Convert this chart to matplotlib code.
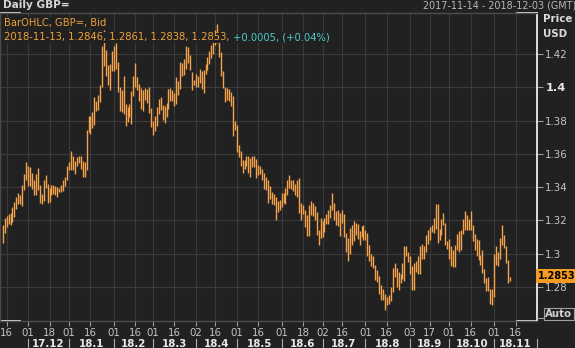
import matplotlib.pyplot as plt
import matplotlib.transforms as mtransforms
import pandas as pd

plt.rcParams['font.family'] = ['DejaVu Sans']

# daily GBP= bid bars, one per weekday from 2017-11-14 to 2018-11-13
high = [
    1.3175, 1.3215, 1.3225, 1.3240, 1.3245, 1.3280, 1.3310, 1.3340, 1.3365, 1.3355, 1.3410, 1.3480, 1.3550,
    1.3530, 1.3520, 1.3485, 1.3440, 1.3480, 1.3515, 1.3410, 1.3360, 1.3440, 1.3470, 1.3420, 1.3395, 1.3410,
    1.3410, 1.3405, 1.3400, 1.3395, 1.3410, 1.3445, 1.3460, 1.3530,
    1.3550, 1.3615, 1.3590, 1.3560, 1.3580, 1.3590, 1.3590, 1.3560, 1.3550, 1.3745, 1.3825, 1.3830, 1.3850,
    1.3943, 1.3915, 1.3955, 1.4015, 1.4250, 1.4345, 1.4225, 1.4135, 1.4140, 1.4215,
    1.4245, 1.4265, 1.4150, 1.4000, 1.3985, 1.4065, 1.3900, 1.3880, 1.3900, 1.3975, 1.4070, 1.4145, 1.4060,
    1.4020, 1.3995, 1.3985, 1.3995, 1.3990, 1.4000, 1.3875,
    1.3800, 1.3825, 1.3880, 1.3930, 1.3940, 1.3895, 1.3890, 1.3905, 1.3990, 1.3995, 1.3985, 1.3965, 1.4060,
    1.4040, 1.4150, 1.4145, 1.4170, 1.4245, 1.4240, 1.4195, 1.4090, 1.4045,
    1.4080, 1.4070, 1.4110, 1.4100, 1.4105, 1.4140, 1.4180, 1.4220, 1.4255, 1.4290, 1.4345, 1.4377, 1.4315,
    1.4210, 1.4100, 1.4000, 1.3995, 1.3990, 1.3970, 1.3945, 1.3800,
    1.3775, 1.3655, 1.3620, 1.3565, 1.3565, 1.3590, 1.3590, 1.3575, 1.3585, 1.3590, 1.3570, 1.3535, 1.3530,
    1.3510, 1.3485, 1.3460, 1.3440, 1.3405, 1.3370, 1.3360, 1.3340, 1.3315, 1.3320,
    1.3365, 1.3365, 1.3395, 1.3445, 1.3475, 1.3440, 1.3440, 1.3420, 1.3445, 1.3455, 1.3305, 1.3295, 1.3265,
    1.3235, 1.3290, 1.3315, 1.3305, 1.3285, 1.3250, 1.3145, 1.3215,
    1.3195, 1.3215, 1.3240, 1.3265, 1.3290, 1.3365, 1.3305, 1.3255, 1.3260, 1.3245, 1.3260, 1.3240, 1.3125,
    1.3095, 1.3155, 1.3170, 1.3195, 1.3185, 1.3180, 1.3135, 1.3165, 1.3175,
    1.3145, 1.3125, 1.3055, 1.3000, 1.2985, 1.2935, 1.2905, 1.2865, 1.2815, 1.2790, 1.2760, 1.2740, 1.2750,
    1.2800, 1.2915, 1.2945, 1.2915, 1.2890, 1.2880, 1.2945, 1.3045, 1.3045, 1.3010,
    1.2985, 1.2925, 1.2945, 1.2955, 1.2985, 1.3045, 1.3060, 1.3045, 1.3110, 1.3145, 1.3160, 1.3175, 1.3215,
    1.3300, 1.3300, 1.3150, 1.3210, 1.3245, 1.3185, 1.3075,
    1.3090, 1.3045, 1.3025, 1.3050, 1.3120, 1.3135, 1.3145, 1.3210, 1.3255, 1.3235, 1.3210, 1.3255, 1.3170,
    1.3120, 1.3090, 1.3085, 1.2990, 1.3020, 1.2910, 1.2855, 1.2860, 1.2790, 1.2790,
    1.3000, 1.3045, 1.3010, 1.3095, 1.3175, 1.3115, 1.3045, 1.2960, 1.2861,
]
low = [
    1.3063, 1.3125, 1.3160, 1.3180, 1.3170, 1.3190, 1.3220, 1.3270, 1.3300, 1.3300, 1.3285, 1.3385, 1.3440,
    1.3405, 1.3405, 1.3390, 1.3355, 1.3355, 1.3380, 1.3305, 1.3300, 1.3315, 1.3395, 1.3305, 1.3310, 1.3350,
    1.3360, 1.3355, 1.3340, 1.3370, 1.3370, 1.3375, 1.3405, 1.3445,
    1.3500, 1.3500, 1.3505, 1.3480, 1.3525, 1.3545, 1.3510, 1.3460, 1.3460, 1.3500, 1.3730, 1.3720, 1.3755,
    1.3775, 1.3855, 1.3865, 1.3910, 1.4000, 1.4130, 1.4065, 1.4015, 1.3985, 1.4100,
    1.4100, 1.4110, 1.3970, 1.3860, 1.3850, 1.3840, 1.3765, 1.3790, 1.3820, 1.3780, 1.3945, 1.4000, 1.3985,
    1.3915, 1.3870, 1.3855, 1.3925, 1.3905, 1.3845, 1.3760,
    1.3712, 1.3740, 1.3765, 1.3840, 1.3865, 1.3805, 1.3785, 1.3820, 1.3870, 1.3915, 1.3920, 1.3890, 1.3900,
    1.3955, 1.3990, 1.4070, 1.4075, 1.4110, 1.4145, 1.4105, 1.3985, 1.4015,
    1.4000, 1.4000, 1.4025, 1.3990, 1.3965, 1.4080, 1.4105, 1.4140, 1.4175, 1.4200, 1.4255, 1.4265, 1.4180,
    1.4070, 1.3995, 1.3910, 1.3925, 1.3915, 1.3890, 1.3710, 1.3745,
    1.3610, 1.3580, 1.3530, 1.3485, 1.3510, 1.3525, 1.3485, 1.3460, 1.3520, 1.3520, 1.3455, 1.3470, 1.3480,
    1.3440, 1.3390, 1.3380, 1.3305, 1.3330, 1.3300, 1.3290, 1.3205, 1.3250, 1.3265,
    1.3280, 1.3305, 1.3300, 1.3355, 1.3395, 1.3390, 1.3375, 1.3355, 1.3340, 1.3245, 1.3205, 1.3240, 1.3160,
    1.3105, 1.3105, 1.3230, 1.3225, 1.3205, 1.3115, 1.3050, 1.3095,
    1.3100, 1.3130, 1.3180, 1.3180, 1.3215, 1.3265, 1.3200, 1.3170, 1.3165, 1.3105, 1.3185, 1.3100, 1.3010,
    1.2957, 1.3000, 1.3055, 1.3075, 1.3115, 1.3090, 1.3055, 1.3100, 1.3085,
    1.3080, 1.2985, 1.2955, 1.2925, 1.2915, 1.2845, 1.2830, 1.2760, 1.2725, 1.2725, 1.2662, 1.2690, 1.2700,
    1.2715, 1.2770, 1.2860, 1.2800, 1.2785, 1.2825, 1.2850, 1.2835, 1.2985, 1.2950,
    1.2880, 1.2785, 1.2785, 1.2890, 1.2880, 1.2880, 1.2970, 1.2970, 1.3010, 1.3060, 1.3080, 1.3130, 1.3125,
    1.3150, 1.3065, 1.3085, 1.3110, 1.3175, 1.3050, 1.3030,
    1.2970, 1.2925, 1.2920, 1.2920, 1.3025, 1.3010, 1.3025, 1.3120, 1.3140, 1.3145, 1.3145, 1.3145, 1.3075,
    1.3020, 1.2985, 1.2960, 1.2935, 1.2885, 1.2825, 1.2775, 1.2775, 1.2700, 1.2695,
    1.2740, 1.2930, 1.2925, 1.2970, 1.3050, 1.3035, 1.2945, 1.2827, 1.2838,
]

tick_dates = ['2017-11-16', '2017-12-01', '2017-12-18', '2018-01-01', '2018-01-16', '2018-02-01',
              '2018-02-16', '2018-03-01', '2018-03-16', '2018-04-02', '2018-04-16', '2018-05-01',
              '2018-05-16', '2018-06-01', '2018-06-18', '2018-07-02', '2018-07-16', '2018-08-01',
              '2018-08-16', '2018-09-03', '2018-09-17', '2018-10-01', '2018-10-16', '2018-11-01',
              '2018-11-16']
month_starts = ['2017-12-01', '2018-01-01', '2018-02-01', '2018-03-01', '2018-04-02', '2018-05-01',
                '2018-06-01', '2018-07-02', '2018-08-01', '2018-09-03', '2018-10-01', '2018-11-01',
                '2018-12-03']
month_labels = ['17.12', '18.1', '18.2', '18.3', '18.4', '18.5', '18.6', '18.7', '18.8', '18.9',
                '18.10', '18.11']
price_levels = [1.28, 1.30, 1.32, 1.34, 1.36, 1.38, 1.40, 1.42]
price_labels = ['1.28', '1.3', '1.32', '1.34', '1.36', '1.38', '1.4', '1.42']
last_bar = '2018-11-13, 1.2846, 1.2861, 1.2838, 1.2853, '
last_change = '+0.0005, (+0.04%)'
last_close = '1.2853'

BG = '#212121'
GRID = '#3a3a3a'
BAR = '#f4a24c'
TXT = '#c4c4c4'

days = pd.bdate_range('2017-11-14', '2018-12-03')
pos = {d.strftime('%Y-%m-%d'): i for i, d in enumerate(days)}
x = list(range(len(high)))

fig = plt.figure(figsize=(5.75, 3.48), dpi=100, facecolor=BG)
ax = fig.add_axes([0, 27 / 348, 537 / 575, 308.5 / 348])
ax.set_facecolor(BG)

ax.vlines(x, low, high, color=BAR, lw=1.0, zorder=2)

ax.set_xlim(-1.4, pos['2018-12-03'])
ax.set_ylim(1.2596, 1.4449)

# grid
ax.set_axisbelow(True)
ax.grid(True, color=GRID, lw=0.8)

# price axis on the right
ax.yaxis.tick_right()
ax.set_yticks(price_levels, labels=price_labels)
ax.tick_params(axis='y', colors='#9a9a9a', labelcolor=TXT, length=4, width=0.8, pad=2, labelsize=7.4)
for lbl in ax.get_yticklabels():
    if lbl.get_text() == '1.4':
        lbl.set_fontweight('bold')
        lbl.set_fontsize(8.2)
        lbl.set_color('#e6e6e6')

# time axis
ax.set_xticks([pos[d] for d in tick_dates], labels=[d[-2:] for d in tick_dates])
ax.tick_params(axis='x', colors='#9a9a9a', labelcolor=TXT, length=3.5, width=0.8, pad=1.5, labelsize=7.4)

trans = mtransforms.blended_transform_factory(ax.transData, ax.transAxes)
bounds = [pos[d] for d in month_starts]
for k, lab in enumerate(month_labels):
    ax.text((bounds[k] + bounds[k + 1]) / 2, -0.073, lab, transform=trans, ha='center', va='center',
            color='#e8e8e8', fontsize=7.4, fontweight='bold')
for b in bounds:
    ax.plot([b, b], [-0.058, -0.095], transform=trans, color='#b0b0b0', lw=0.8, clip_on=False)

# frame
for s in ax.spines.values():
    s.set_color('#4c4c4c')
    s.set_linewidth(1.0)
ax.spines['right'].set_color('white')
ax.spines['right'].set_linewidth(1.2)
cw = 20 / 537
for xs in ([0, cw], [1 - cw, 1]):
    for yv in (0, 1):
        ax.plot(xs, [yv, yv], transform=ax.transAxes, color='white', lw=1.2, clip_on=False)

# legend lines
t1 = ax.text(4 / 537, 0.967, 'BarOHLC, GBP=, Bid', transform=ax.transAxes, ha='left', va='center',
             color='#eea23a', fontsize=7.2, bbox=dict(fc=BG, ec='none', pad=0.6))
t2 = ax.text(4 / 537, 0.919, last_bar, transform=ax.transAxes, ha='left', va='center',
             color='#eea23a', fontsize=7.2, bbox=dict(fc=BG, ec='none', pad=0.6))
ax.annotate(last_change, xy=(1, 0.5), xycoords=t2, ha='left', va='center',
            color='#4cc8c8', fontsize=7.2, bbox=dict(fc=BG, ec='none', pad=0.6))

# header
fig.text(3 / 575, 1 - 5.5 / 348, 'Daily GBP=', ha='left', va='center', color='#d6d6d6',
         fontsize=7.6, fontweight='bold')
fig.text(423 / 575, 1 - 5.5 / 348, '2017-11-14 - 2018-12-03 (GMT)', ha='left', va='center',
         color='#b8b8b8', fontsize=6.9)
fig.text(543 / 575, 1 - 19 / 348, 'Price', ha='left', va='center', color='#dcdcdc',
         fontsize=7.4, fontweight='bold')
fig.text(543 / 575, 1 - 34 / 348, 'USD', ha='left', va='center', color='#dcdcdc',
         fontsize=7.4, fontweight='bold')

# last price tag
fig.text(538 / 575, 1 - 276 / 348, last_close, ha='left', va='center', color='black',
         fontsize=7.0, fontweight='bold', bbox=dict(fc='#f59b22', ec='none', pad=1.2))

# auto button
fig.text(545 / 575, 1 - 314 / 348, 'Auto', ha='left', va='center', color='#d0d0d0',
         fontsize=7.4, fontweight='bold', bbox=dict(fc=BG, ec='#a0a0a0', lw=0.8, pad=1.0))
fig.add_artist(plt.Line2D([537 / 575, 543 / 575], [1 - 318 / 348, 1 - 318 / 348],
                          color='#a0a0a0', lw=0.8))

fig.savefig('out.png', dpi=100, facecolor=BG)
